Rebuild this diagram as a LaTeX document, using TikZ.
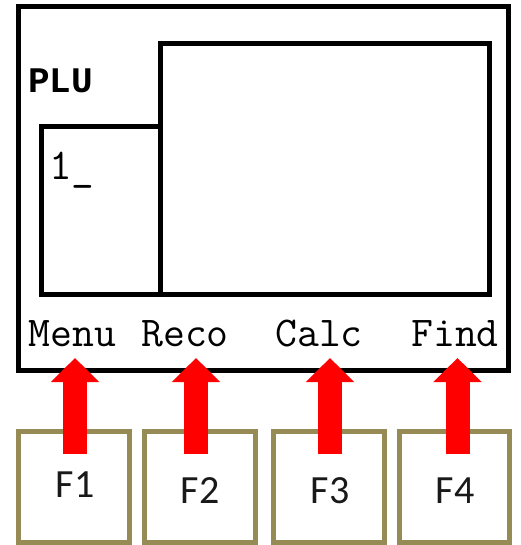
\documentclass[tikz,border=0pt]{standalone}
\usepackage{fontspec}
\usepackage{xcolor}
\usepackage{tikz}
\usetikzlibrary{arrows.meta}
\usetikzlibrary{backgrounds,positioning}
\newfontfamily\lcdfont{Latin Modern Mono}
\newfontfamily\lcdbold{Liberation Mono Bold}
\newfontfamily\keyfont{Carlito}
\definecolor{keyolive}{RGB}{150,138,85}
\pgfdeclarelayer{edgelayer}
\pgfdeclarelayer{nodelayer}
\pgfsetlayers{background,edgelayer,nodelayer,main}
\tikzstyle{none}=[inner sep=0mm]
\tikzstyle{frame}=[draw=black,line width=5pt,shape=rectangle,inner sep=0mm]
\tikzstyle{key}=[draw=keyolive,line width=5pt,shape=rectangle,inner sep=0mm,minimum width=111pt,minimum height=111pt]
\tikzstyle{softlabel}=[none,anchor=base,font=\lcdfont\fontsize{42.5}{44}\selectfont]
\tikzstyle{keylabel}=[none,anchor=base,text=black!90,font=\keyfont\fontsize{40}{42}\selectfont]
\tikzstyle{keyarrow}=[draw=red,line width=24pt,-{Triangle[length=24pt,width=47pt]}]

\begin{document}
\begin{tikzpicture}[x=1pt,y=-1pt]
	\useasboundingbox (0, 0) rectangle (520, 545);
	\begin{pgfonlayer}{edgelayer}
		\node [style=frame, minimum width=490pt, minimum height=363pt] (screen) at (263, 188.5) {};
		\node [style=frame, minimum width=329pt, minimum height=250pt] (menuarea) at (324.5, 169) {};
		\node [style=frame, minimum width=119pt, minimum height=167pt] (entry) at (100.5, 210.5) {};
		\node [style=key] (k1) at (74.25, 487) {};
		\node [style=key] (k2) at (200, 487) {};
		\node [style=key] (k3) at (329, 487) {};
		\node [style=key, minimum width=110pt] (k4) at (454.5, 487) {};
	\end{pgfonlayer}
	\begin{pgfonlayer}{nodelayer}
		\node [style=none, anchor=base west, font=\lcdbold\fontsize{36}{40}\selectfont] (plu) at (28, 93) {PLU};
		\node [style=none, anchor=base west, font=\lcdfont\fontsize{44}{46}\selectfont] (qty) at (49, 179) {1\_};
		\node [style=softlabel] (menu) at (72.5, 346) {Menu};
		\node [style=softlabel] (reco) at (185, 346) {Reco};
		\node [style=softlabel] (calc) at (319, 346) {Calc};
		\node [style=softlabel] (find) at (455, 346) {Find};
		\node [style=keylabel] (f1) at (75, 497) {F1};
		\node [style=keylabel] (f2) at (200, 503) {F2};
		\node [style=keylabel] (f3) at (330, 503) {F3};
		\node [style=keylabel] (f4) at (455, 503) {F4};
	\end{pgfonlayer}
	% arrows from the keys up to the soft labels
	\coordinate (a1) at (75, 454);
	\coordinate (a2) at (196, 454);
	\coordinate (a3) at (330, 454);
	\coordinate (a4) at (457.5, 454);
	\coordinate (t1) at (75, 358);
	\coordinate (t2) at (196, 358);
	\coordinate (t3) at (330, 358);
	\coordinate (t4) at (457.5, 358);
	\foreach \i in {1,...,4}
		\draw [style=keyarrow] (a\i) to (t\i);
\end{tikzpicture}
\end{document}
